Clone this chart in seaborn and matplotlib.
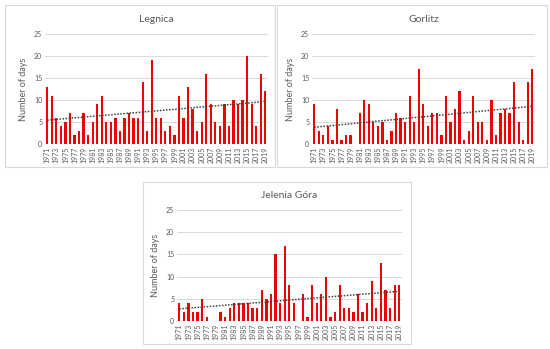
import numpy as np
import pandas as pd
import matplotlib
matplotlib.use('Agg')
import matplotlib.pyplot as plt
from matplotlib.patches import Rectangle
import seaborn as sns

#data
years = list(range(1971, 2020))
legnica = [13, 11, 6, 4, 5, 7, 2, 3, 7, 2,
           5, 9, 11, 5, 5, 6, 3, 6, 7, 6,
           6, 14, 3, 19, 6, 6, 3, 4, 2, 11,
           6, 13, 8, 3, 5, 16, 9, 5, 4, 9,
           4, 10, 9, 10, 20, 9, 4, 16, 12]
gorlitz = [9, 3, 2, 4, 1, 8, 1, 2, 2, 0,
           7, 10, 9, 5, 4, 5, 1, 3, 7, 6,
           5, 11, 5, 17, 9, 4, 7, 7, 2, 11,
           5, 8, 12, 1, 3, 11, 5, 5, 1, 10,
           2, 7, 8, 7, 14, 5, 1, 14, 17]
jelenia = [4, 2, 4, 2, 2, 5, 1, 0, 0, 2,
           1, 3, 4, 4, 4, 4, 3, 3, 7, 5,
           6, 15, 4, 17, 8, 4, 0, 6, 1, 8,
           4, 6, 10, 1, 2, 8, 3, 3, 2, 6,
           2, 4, 9, 3, 13, 7, 3, 8, 8]
titles = ['Legnica', 'Gorlitz', 'Jelenia Góra']
yticks = [0, 5, 10, 15, 20, 25]

sns.set_style('white')
plt.rcParams['font.family'] = ['Lato', 'DejaVu Sans']

fig = plt.figure(figsize=(5.5, 3.49), dpi=100)
W, H = 550, 349

def px(x, y, w, h):
    #pixel box (top-left origin) -> figure fraction
    return [x / W, 1 - (y + h) / H, w / W, h / H]

#panel frames
for (x, y, w, h) in [(5, 5, 270, 162), (277, 5, 270, 162), (143, 182, 268, 162)]:
    fig.patches.append(Rectangle((x / W, 1 - (y + h) / H), w / W, h / H,
                                 transform=fig.transFigure, fill=False,
                                 edgecolor='#d9d9d9', linewidth=0.8))

def panel(box, values, title):
    ax = fig.add_axes(px(*box))
    df = pd.DataFrame({'year': years, 'days': values})
    sns.barplot(data=df, x='year', y='days', native_scale=True, color='#f00000',
                width=0.5, saturation=1, linewidth=0, ax=ax)
    sns.regplot(data=df, x='year', y='days', scatter=False, ci=None, ax=ax,
                line_kws={'color': '#404040', 'linestyle': (0, (1, 1)), 'linewidth': 1.1})
    ax.set_xlim(1970.5, 2019.6)
    ax.set_ylim(0, 25)
    ax.set_yticks(yticks)
    ax.set_xticks(years[::2])
    ax.set_xticklabels([str(y) for y in years[::2]], rotation=90)
    ax.tick_params(axis='both', labelsize=5, colors='#595959', length=0, pad=2)
    ax.yaxis.grid(True, color='#d9d9d9', linewidth=0.7)
    ax.set_axisbelow(True)
    for s in ax.spines.values():
        s.set_visible(False)
    ax.axhline(0, color='#d9d9d9', linewidth=0.8, zorder=0)
    ax.set_xlabel('')
    ax.set_ylabel('Number of days', fontsize=6.5, color='#595959', labelpad=4)
    ax.set_title(title, fontsize=7.5, color='#595959', pad=9)
    return ax

panel((45, 34, 223, 110), legnica, titles[0])
panel((312, 34, 223, 110), gorlitz, titles[1])
panel((177, 210, 225, 111), jelenia, titles[2])

fig.savefig('out.png', dpi=100)
